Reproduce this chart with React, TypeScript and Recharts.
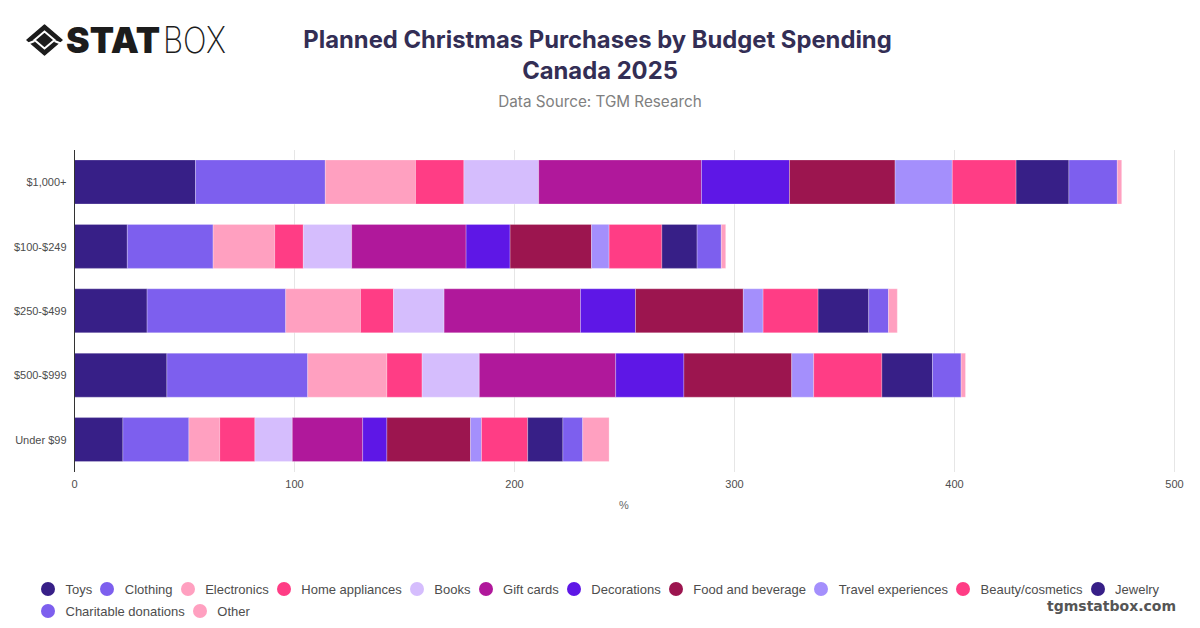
import { BarChart, Bar, XAxis, YAxis, CartesianGrid } from 'recharts';

const CATEGORIES = ['$1,000+', '$100-$249', '$250-$499', '$500-$999', 'Under $99'];
const X_TICKS = [0, 100, 200, 300, 400, 500];

const toys = [55, 24, 33, 42, 22];
const clothing = [59, 39, 63, 64, 30];
const electronics = [41, 28, 34, 36, 14];
const homeAppliances = [22, 13, 15, 16, 16];
const books = [34, 22, 23, 26, 17];
const giftCards = [74, 52, 62, 62, 32];
const decorations = [40, 20, 25, 31, 11];
const foodAndBeverage = [48, 37, 49, 49, 38];
const travelExperiences = [26, 8, 9, 10, 5];
const beautyCosmetics = [29, 24, 25, 31, 21];
const jewelry = [24, 16, 23, 23, 16];
const charitableDonations = [22, 11, 9, 13, 9];
const other = [2, 2, 4, 2, 12];

const SERIES = [
  { name: 'Toys', values: toys, color: '#371f87' },
  { name: 'Clothing', values: clothing, color: '#7d5fee' },
  { name: 'Electronics', values: electronics, color: '#ffa0c0' },
  { name: 'Home appliances', values: homeAppliances, color: '#ff3d85' },
  { name: 'Books', values: books, color: '#d5bdfd' },
  { name: 'Gift cards', values: giftCards, color: '#b0189b' },
  { name: 'Decorations', values: decorations, color: '#5e17e6' },
  { name: 'Food and beverage', values: foodAndBeverage, color: '#9c154f' },
  { name: 'Travel experiences', values: travelExperiences, color: '#a48ffc' },
  { name: 'Beauty/cosmetics', values: beautyCosmetics, color: '#ff3d85' },
  { name: 'Jewelry', values: jewelry, color: '#371f87' },
  { name: 'Charitable donations', values: charitableDonations, color: '#7d5fee' },
  { name: 'Other', values: other, color: '#ffa0c0' },
];

const data = CATEGORIES.map((category, i) => {
  const row: Record<string, string | number> = { category };
  SERIES.forEach((s) => { row[s.name] = s.values[i]; });
  return row;
});

const SANS = '"Liberation Sans", Arial, sans-serif';
const TITLE_FONT = 'Inter, "Noto Sans", sans-serif';

function Logo() {
  return (
    <svg width={260} height={60} viewBox="0 0 260 60" style={{ position: 'absolute', left: 24, top: 22 }}>
      <polygon points="3,18 20.5,3 38,18 20.5,33" fill="#1c1c1c" stroke="#1c1c1c" strokeWidth={1.5} strokeLinejoin="round" />
      <polygon points="10.5,18 20.5,9.5 30.5,18 20.5,26.5" fill="#1c1c1c" stroke="#ffffff" strokeWidth={2} />
      <line x1={10.5} y1={19} x2={3} y2={22} stroke="#ffffff" strokeWidth={2} />
      <line x1={30.5} y1={19} x2={38} y2={22} stroke="#ffffff" strokeWidth={2} />
      <text x={42} y={31} fontFamily={TITLE_FONT} fontWeight={900} fontSize={36} fill="#1c1c1c" textLength={94} lengthAdjust="spacingAndGlyphs">STAT</text>
      <text x={139} y={31} fontFamily={TITLE_FONT} fontWeight={200} fontSize={36} fill="#1c1c1c" textLength={63} lengthAdjust="spacingAndGlyphs">BOX</text>
    </svg>
  );
}

function LegendRow({ items, top }: { items: typeof SERIES; top: number }) {
  return (
    <div style={{ position: 'absolute', left: 41, top, display: 'flex', whiteSpace: 'nowrap' }}>
      {items.map((s) => (
        <div key={s.name} style={{ display: 'flex', alignItems: 'center', height: 18, marginRight: 8.1 }}>
          <span style={{ width: 14, height: 14, borderRadius: 7, background: s.color, marginRight: 10.5 }} />
          <span style={{ fontFamily: SANS, fontSize: 13, color: '#4d4d4d' }}>{s.name}</span>
        </div>
      ))}
    </div>
  );
}

export default function App() {
  return (
    <div style={{ position: 'absolute', left: 0, top: 0, width: 1200, height: 628, background: '#fff', overflow: 'hidden' }}>
      <Logo />
      <div style={{ position: 'absolute', left: 0, width: 1195, top: 25, textAlign: 'center', fontFamily: TITLE_FONT, fontWeight: 700, fontSize: 23.8, lineHeight: '30.5px', color: '#332e55' }}>
        Planned Christmas Purchases by Budget Spending<br />
        <span style={{ position: 'relative', left: 2.5 }}>Canada 2025</span>
      </div>
      <div style={{ position: 'absolute', left: 0, width: 1200, top: 92, textAlign: 'center', fontFamily: TITLE_FONT, fontSize: 15.25, lineHeight: '20px', color: '#808080' }}>
        Data Source: TGM Research
      </div>

      <BarChart
        width={1200}
        height={628}
        data={data}
        layout="vertical"
        barCategoryGap="15.5%"
        margin={{ top: 150, right: 25.5, bottom: 126, left: 0 }}
        style={{ position: 'absolute', left: 0, top: 0 }}
      >
        <CartesianGrid horizontal={false} stroke="#e6e6e6" />
        <XAxis
          type="number"
          domain={[0, 500]}
          ticks={X_TICKS}
          height={30}
          axisLine={false}
          tickLine={false}
          tickMargin={2}
          tick={{ fill: '#4d4d4d', fontSize: 11, fontFamily: SANS }}
        />
        <YAxis
          type="category"
          dataKey="category"
          width={74.5}
          axisLine={{ stroke: '#333333' }}
          tickLine={false}
          tickMargin={2}
          tick={{ fill: '#4d4d4d', fontSize: 11, fontFamily: SANS }}
        />
        {SERIES.map((s) => (
          <Bar
            key={s.name}
            dataKey={s.name}
            stackId="total"
            fill={s.color}
            stroke="#ffffff"
            strokeOpacity={0.25}
            strokeWidth={1}
            isAnimationActive={false}
          />
        ))}
      </BarChart>

      <div style={{ position: 'absolute', left: 524, width: 200, top: 499, textAlign: 'center', fontFamily: SANS, fontSize: 11, color: '#666666' }}>%</div>

      <LegendRow items={SERIES.slice(0, 11)} top={580} />
      <LegendRow items={SERIES.slice(11)} top={602} />

      <div style={{ position: 'absolute', right: 24, top: 598, fontFamily: '"DejaVu Sans", sans-serif', fontWeight: 700, fontSize: 14, color: '#555555' }}>tgmstatbox.com</div>
    </div>
  );
}
